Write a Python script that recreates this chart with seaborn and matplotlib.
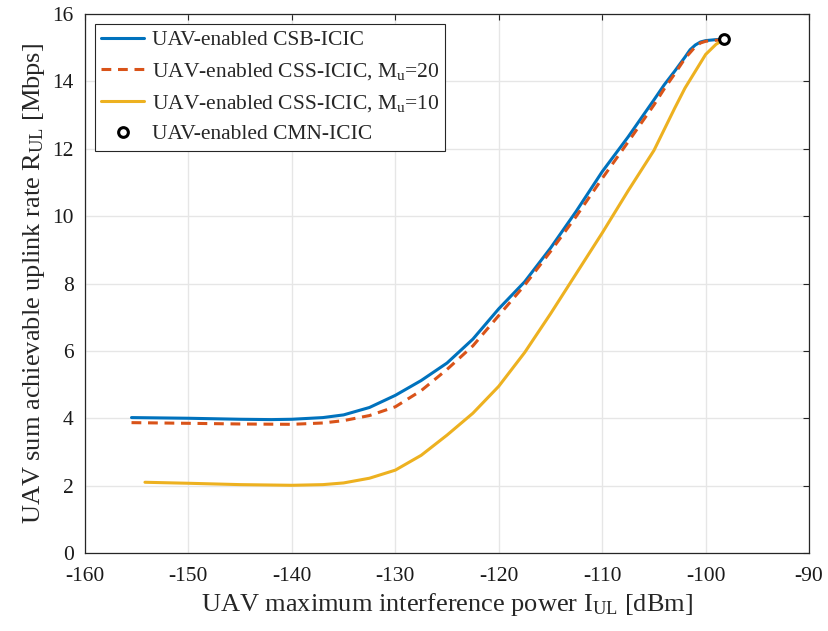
import warnings
warnings.filterwarnings("ignore")

import matplotlib
matplotlib.use("Agg")
import matplotlib.pyplot as plt
import seaborn as sns
import pandas as pd

# Curve samples (x in dBm, y in Mbps)
csb_x = [-155.5, -150, -145, -142, -140, -137, -135, -132.5, -130, -127.5, -125, -122.5,
         -120, -117.5, -115, -112.5, -110, -107.5, -105, -104, -103, -102, -101.5, -101,
         -100.5, -100, -99, -98.2]
csb_y = [4.02, 4.00, 3.97, 3.96, 3.97, 4.02, 4.10, 4.32, 4.68, 5.12, 5.64, 6.35,
         7.25, 8.05, 9.05, 10.15, 11.32, 12.35, 13.45, 13.9, 14.3, 14.72, 14.94, 15.08,
         15.17, 15.21, 15.24, 15.25]

css20_x = [-155.5, -150, -145, -140, -137, -135, -132.5, -130, -127.5, -125, -122.5,
           -120, -117.5, -115, -112.5, -110, -107.5, -105, -104, -103, -102, -101,
           -100.5, -100, -99, -98.2]
css20_y = [3.87, 3.85, 3.83, 3.82, 3.86, 3.93, 4.08, 4.34, 4.82, 5.45, 6.15,
           7.05, 7.95, 8.95, 10.0, 11.12, 12.2, 13.3, 13.78, 14.22, 14.68, 15.03,
           15.14, 15.19, 15.22, 15.23]

css10_x = [-154.2, -150, -145, -140, -137, -135, -132.5, -130, -127.5, -125, -122.5,
           -120, -117.5, -115, -112.5, -110, -107.5, -105, -103, -102, -101, -100,
           -99, -98.2]
css10_y = [2.10, 2.07, 2.03, 2.01, 2.03, 2.08, 2.22, 2.46, 2.90, 3.50, 4.15,
           4.95, 5.95, 7.10, 8.30, 9.50, 10.75, 11.95, 13.2, 13.8, 14.3, 14.8,
           15.1, 15.25]

cmn_x = [-98.2]
cmn_y = [15.25]

labels = ["UAV-enabled CSB-ICIC",
          r"UAV-enabled CSS-ICIC, M$_{\mathrm{u}}$=20",
          r"UAV-enabled CSS-ICIC, M$_{\mathrm{u}}$=10",
          "UAV-enabled CMN-ICIC"]

sns.set_theme(style="whitegrid")
plt.rcParams['font.family'] = ['Liberation Serif', 'DejaVu Serif']
plt.rcParams['mathtext.fontset'] = 'custom'
plt.rcParams['mathtext.rm'] = 'Liberation Serif'
plt.rcParams['mathtext.it'] = 'Liberation Serif:italic'
plt.rcParams['axes.unicode_minus'] = False

fig = plt.figure(figsize=(8.29, 6.31), dpi=100)
ax = fig.add_axes([0.1025, 0.1236, 0.8735, 0.8542])

sns.lineplot(x=csb_x, y=csb_y, ax=ax, color='#0072BD', lw=2.2, label=labels[0], sort=False)
sns.lineplot(x=css20_x, y=css20_y, ax=ax, color='#D95319', lw=2.2, label=labels[1], sort=False)
ax.lines[-1].set_dashes([3.2, 2.2])
sns.lineplot(x=css10_x, y=css10_y, ax=ax, color='#EDB120', lw=2.2, label=labels[2], sort=False)
ax.plot(cmn_x, cmn_y, 'o', ms=7, mfc='white', mec='black', mew=2.2, label=labels[3])

ax.set_xlim(-160, -90)
ax.set_ylim(0, 16)
ax.set_xticks(range(-160, -89, 10))
ax.set_yticks(range(0, 17, 2))
ax.set_facecolor('white')
ax.grid(True, color='#e6e6e6', lw=1.0)
for s in ax.spines.values():
    s.set_color('#262626')
    s.set_linewidth(0.9)
ax.tick_params(direction='in', length=4, width=0.8, colors='#262626', labelsize=15.5,
               top=True, right=True, labelcolor='#1a1a1a')
ax.tick_params(axis='x', pad=10)
ax.tick_params(axis='y', pad=8)

ax.set_xlabel(r"UAV maximum interference power I$_{\mathrm{UL}}$ [dBm]", fontsize=19,
              color='#262626', labelpad=4)
ax.set_ylabel(r"UAV sum achievable uplink rate R$_{\mathrm{UL}}$ [Mbps]", fontsize=19,
              color='#262626', labelpad=4)

leg = ax.legend(loc='upper left', fontsize=15.5, frameon=True, fancybox=False,
                edgecolor='#262626', framealpha=1, borderpad=0.3, labelspacing=0.5,
                handlelength=2.0, handletextpad=0.35, borderaxespad=0.45)
leg.get_frame().set_linewidth(0.8)

fig.savefig("out.png", dpi=100)
